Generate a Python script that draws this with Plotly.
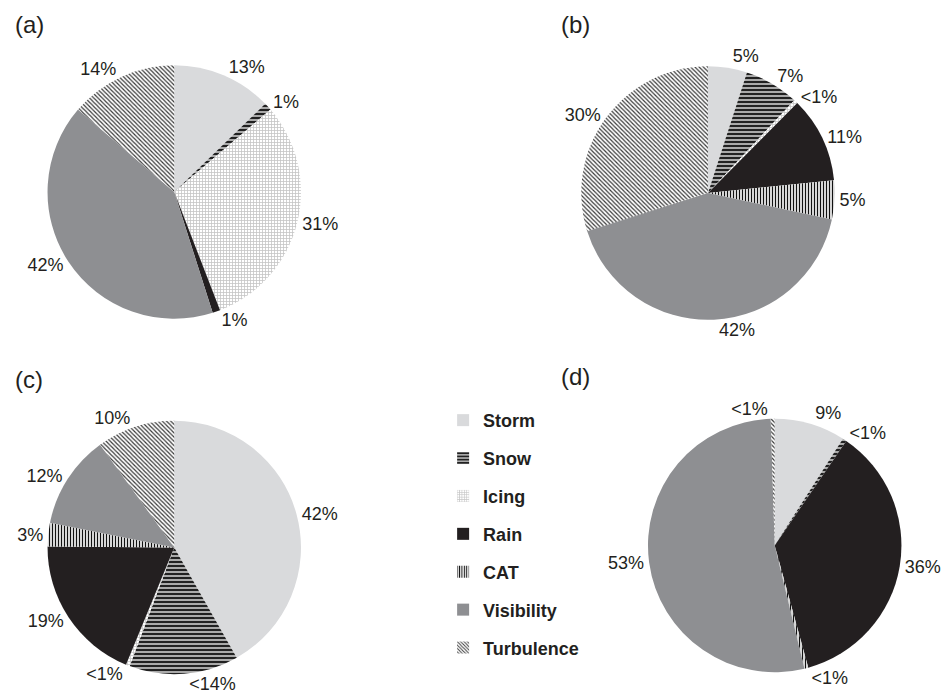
import plotly.graph_objects as go

# Hazard categories (clockwise from 12 o'clock in every pie)
categories = ["Storm", "Snow", "Icing", "Rain", "CAT", "Visibility", "Turbulence"]

# Share of each hazard per panel (percent); "<1%" slices drawn at 0.5
values_a = [13, 1, 31, 1, 0, 42, 14]
values_b = [5, 7, 0.5, 11, 5, 42, 30]
values_c = [42, 14, 0.5, 19, 3, 12, 10]
values_d = [9, 0.5, 0, 36, 0.5, 53, 0.5]

labels_a = ["13%", "1%", "31%", "1%", "", "42%", "14%"]
labels_b = ["5%", "7%", "<1%", "11%", "5%", "42%", "30%"]
labels_c = ["42%", "<14%", "<1%", "19%", "3%", "12%", "10%"]
labels_d = ["9%", "<1%", "", "36%", "<1%", "53%", "<1%"]

panel_titles = ["(a)", "(b)", "(c)", "(d)"]

# Fill style per category
fill_colors = ["#d9dadc", "#8a8a8a", "#ffffff", "#231f20", "#ffffff", "#8e8f92", "#ffffff"]
pat_shapes = ["", "-", "+", "", "|", "", "\\"]
pat_fg = ["#d9dadc", "#111111", "#c4c4c4", "#231f20", "#111111", "#8e8f92", "#3a3a3a"]
pat_bg = ["#d9dadc", "#a9a9a9", "#ffffff", "#231f20", "#ffffff", "#8e8f92", "#ffffff"]
pat_size = [4, 4, 3, 4, 3, 4, 3]
pat_solid = [0.3, 0.45, 0.45, 0.3, 0.45, 0.3, 0.4]

W, H = 946, 699
R = 128
# pie centres in pixels (x from left, y from top)
centres = [(175, 194), (711, 195), (175, 553), (778, 551)]

FONT = "Liberation Sans, Arial, Helvetica, sans-serif"
INK = "#231f20"

fig = go.Figure()

for vals, labs, (cx, cy) in zip([values_a, values_b, values_c, values_d],
                                [labels_a, labels_b, labels_c, labels_d], centres):
    keep = [i for i, v in enumerate(vals) if v > 0]
    fig.add_trace(go.Pie(
        labels=[categories[i] for i in keep],
        values=[vals[i] for i in keep],
        text=[labs[i] for i in keep],
        textinfo="text",
        textposition="outside",
        textfont=dict(family=FONT, size=18, color=INK),
        sort=False,
        direction="clockwise",
        rotation=0,
        showlegend=False,
        hoverinfo="label+text",
        marker=dict(
            colors=[fill_colors[i] for i in keep],
            line=dict(width=0),
            pattern=dict(
                shape=[pat_shapes[i] for i in keep],
                fgcolor=[pat_fg[i] for i in keep],
                bgcolor=[pat_bg[i] for i in keep],
                size=[pat_size[i] for i in keep],
                solidity=[pat_solid[i] for i in keep],
                fillmode="replace",
            ),
        ),
        domain=dict(
            x=[(cx - R) / W, (cx + R) / W],
            y=[(H - cy - R) / H, (H - cy + R) / H],
        ),
    ))

# Legend entries: empty bar traces carrying each category's fill
for i, name in enumerate(categories):
    fig.add_trace(go.Bar(
        x=[None], y=[None], name=name, legendgroup=name,
        marker=dict(
            color=fill_colors[i], line=dict(width=0),
            pattern=dict(shape=pat_shapes[i], fgcolor=pat_fg[i], bgcolor=pat_bg[i],
                         size=pat_size[i], solidity=pat_solid[i], fillmode="replace"),
        ),
        showlegend=True,
    ))

# Panel letters
title_pos = [(13, 25), (561, 25), (13, 383), (561, 380)]
for t, (x, y) in zip(panel_titles, title_pos):
    fig.add_annotation(text=t, x=x / W, y=1 - y / H, xref="paper", yref="paper",
                       xanchor="left", yanchor="middle", showarrow=False,
                       font=dict(family=FONT, size=24, color=INK))

fig.update_layout(
    width=W, height=H,
    margin=dict(l=0, r=0, t=0, b=0),
    paper_bgcolor="white", plot_bgcolor="white",
    xaxis=dict(visible=False), yaxis=dict(visible=False),
    legend=dict(
        x=445 / W, y=1 - 406 / H, xanchor="left", yanchor="top",
        font=dict(family=FONT, size=18, color=INK, weight="bold"),
        tracegroupgap=11.5, traceorder="grouped",
        bgcolor="rgba(0,0,0,0)", itemclick=False, itemdoubleclick=False,
    ),
)

# percentage labels sit freely beside their slices, without leader lines
hide_leaders = (
    "var s=document.createElement('style');"
    "s.textContent='path.textline{display:none}';"
    "document.head.appendChild(s);"
)

fig.write_html("out.html", post_script=hide_leaders)
